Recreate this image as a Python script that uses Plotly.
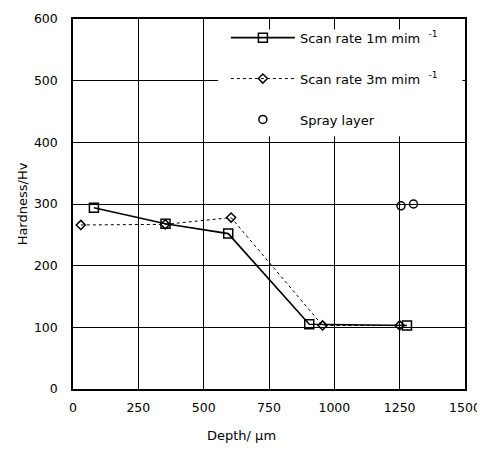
import plotly.graph_objects as go

depth_1m = [80, 354, 594, 904, 1278]
hard_1m = [294, 268, 252, 105, 103]
depth_3m = [30, 353, 605, 955, 1250]
hard_3m = [266, 267, 278, 103, 103]
depth_spray = [1255, 1303]
hard_spray = [297, 300]

x_ticks = [0, 250, 500, 750, 1000, 1250, 1500]
y_ticks = [0, 100, 200, 300, 400, 500, 600]

FONT = "DejaVu Sans"

fig = go.Figure()
fig.add_trace(go.Scatter(
    x=depth_1m, y=hard_1m, mode="lines+markers",
    name="Scan rate 1m mim&nbsp;&nbsp;<sup>-1</sup>", legendgroup="a",
    line=dict(color="black", width=1.6),
    marker=dict(symbol="square-open", size=9, color="black", line=dict(width=1.5)),
))
fig.add_trace(go.Scatter(
    x=depth_3m, y=hard_3m, mode="lines+markers",
    name="Scan rate 3m mim&nbsp;&nbsp;<sup>-1</sup>", legendgroup="b",
    line=dict(color="black", width=1, dash="dot"),
    marker=dict(symbol="diamond-open", size=7, color="black", line=dict(width=1.5)),
))
fig.add_trace(go.Scatter(
    x=depth_spray, y=hard_spray, mode="markers",
    name="Spray layer", legendgroup="c",
    marker=dict(symbol="circle-open", size=8, color="black", line=dict(width=1.5)),
))

# white area behind the legend, hiding the grid there
fig.add_shape(type="rect", xref="x", yref="y", x0=555, x1=1490, y0=410, y1=583,
              fillcolor="white", line=dict(width=0), layer="above")

axis_common = dict(
    showgrid=True, gridcolor="black", gridwidth=1.3,
    showline=True, linecolor="black", linewidth=1.5, mirror=True,
    zeroline=False, ticks="", ticklabeloverflow="allow",
    tickfont=dict(family=FONT, size=12.5, color="black"),
)
fig.update_xaxes(range=[0, 1500], tickvals=x_ticks, ticklabelstandoff=6, **axis_common)
fig.update_yaxes(range=[0, 600], tickvals=y_ticks, ticklabelstandoff=11,
                 title=dict(text="Hardness/Hv", font=dict(family=FONT, size=13, color="black"), standoff=3),
                 **axis_common)

fig.add_annotation(text="Depth/ μm", xref="paper", yref="paper", x=0.43, y=-0.125,
                   xanchor="center", yanchor="middle", showarrow=False,
                   font=dict(family=FONT, size=13, color="black"))

# the page adds an 8 px body margin, so margins are offset by 8 px
fig.update_layout(
    width=485, height=451,
    margin=dict(l=65, r=28, t=3, b=70),
    plot_bgcolor="white", paper_bgcolor="white",
    showlegend=True,
    legend=dict(x=0.39, y=0.99, xanchor="left", yanchor="top",
                bgcolor="rgba(0,0,0,0)", borderwidth=0,
                font=dict(family=FONT, size=13, color="black"),
                itemwidth=64, tracegroupgap=21, traceorder="grouped"),
)

fig.write_html("out.html")
